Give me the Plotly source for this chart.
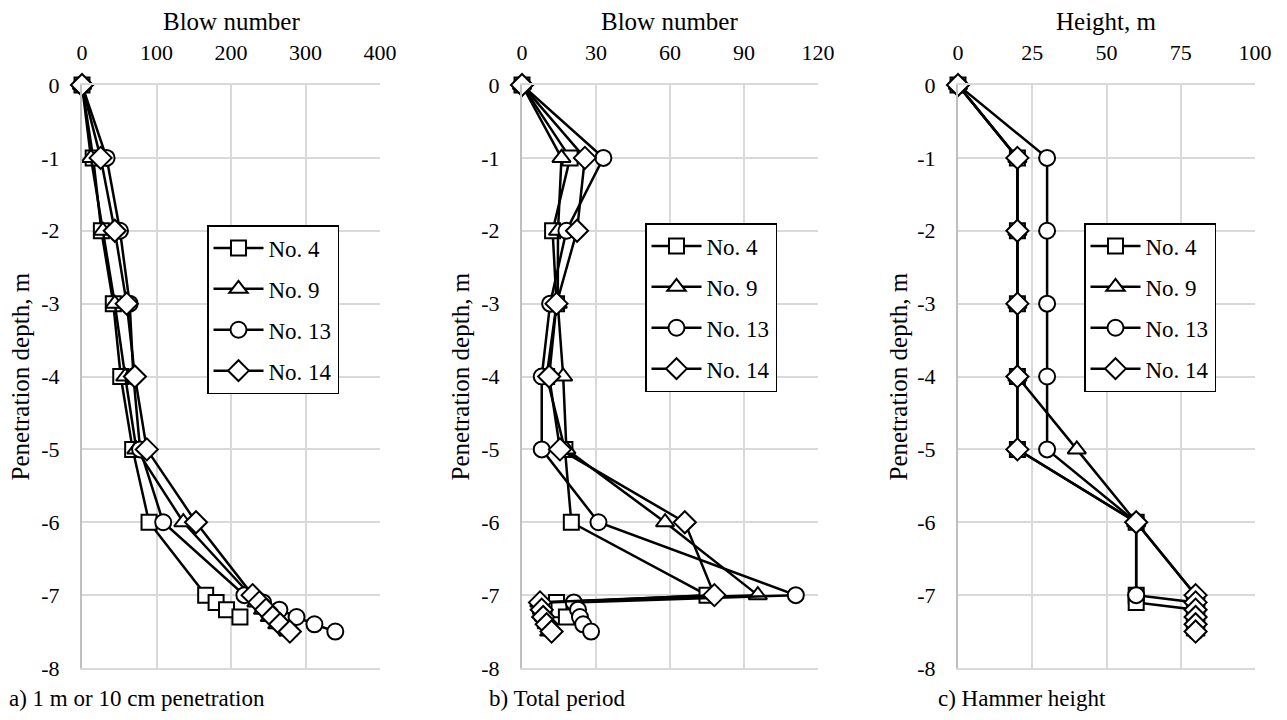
import plotly.graph_objects as go

# ---------------- data ----------------
depth_no4 = [0, -1, -2, -3, -4, -5, -6, -7, -7.1, -7.2, -7.3]
depth_long = [0, -1, -2, -3, -4, -5, -6, -7, -7.1, -7.2, -7.3, -7.4, -7.5]

series_names = ["No. 4", "No. 9", "No. 13", "No. 14"]

# a) blow number per 1 m or 10 cm penetration
a_no4 = [0, 15, 26, 42, 52, 68, 90, 166, 180, 194, 212]
a_no9 = [0, 12, 28, 44, 58, 73, 136, 226, 234, 243, 252, 262, 277]
a_no13 = [0, 33, 51, 64, 69, 78, 109, 218, 243, 265, 288, 312, 340]
a_no14 = [0, 25, 44, 60, 71, 87, 153, 229, 238, 247, 256, 266, 279]

# b) blow number, total period
b_no4 = [0, 19.5, 12.4, 14, 10, 17.4, 20, 75, 14, 15, 18]
b_no9 = [0, 16, 14.6, 14.5, 16.7, 18, 58, 95.6, 7, 8, 9, 10, 11]
b_no13 = [0, 33, 18, 11.4, 8, 8, 31, 111, 21, 22.7, 23.5, 24.8, 28]
b_no14 = [0, 25.5, 22.3, 14, 11, 15.4, 66, 78, 7.3, 8, 8.6, 10, 12]

# c) hammer height, m
c_no4 = [0, 20, 20, 20, 20, 20, 60, 60, 60, 80, 80]
c_no9 = [0, 20, 20, 20, 20, 40, 60, 80, 80, 80, 80, 80, 80]
c_no13 = [0, 30, 30, 30, 30, 30, 60, 60, 80, 80, 80, 80, 80]
c_no14 = [0, 20, 20, 20, 20, 20, 60, 80, 80, 80, 80, 80, 80]

y_ticks = [0, -1, -2, -3, -4, -5, -6, -7, -8]
y_ticktext = ["0", "-1", "-2", "-3", "-4", "-5", "-6", "-7", "-8"]

panels = [
    {"x": [a_no4, a_no9, a_no13, a_no14], "range": [0, 400], "dtick": 100,
     "xtitle": "Blow number", "caption": "a) 1 m or 10 cm penetration"},
    {"x": [b_no4, b_no9, b_no13, b_no14], "range": [0, 120], "dtick": 30,
     "xtitle": "Blow number", "caption": "b) Total period"},
    {"x": [c_no4, c_no9, c_no13, c_no14], "range": [0, 100], "dtick": 25,
     "xtitle": "Height, m", "caption": "c) Hammer height"},
]
depths = [depth_no4, depth_long, depth_long, depth_long]
symbols = ["square", "triangle-up", "circle", "diamond"]
msizes = [15, 16, 16, 17]

# ---------------- layout geometry ----------------
OFF = 8  # page body margin
W, H = 1287 - OFF, 720 - OFF
px_x = [(82, 380), (522, 818), (958, 1255)]
plot_top, plot_bot = 85, 668
legend_pos = [(207, 225), (645, 223), (1084, 223)]
ytitle_x = [20, 460, 898]
caption_pos = [(8, "left"), (557, "center"), (1022, "center")]


def fx(v):
    return (v - OFF) / W


def fy(v):
    return 1 - (v - OFF) / H


FONT = "'Times New Roman', Tinos, 'Liberation Serif', 'DejaVu Serif', serif"
GRID = "#d9d9d9"

fig = go.Figure()
annotations = []

for p, panel in enumerate(panels):
    ax = "" if p == 0 else str(p + 1)
    leg = "legend" if p == 0 else "legend" + str(p + 1)
    for s in range(4):
        fig.add_trace(go.Scatter(
            x=panel["x"][s], y=depths[s],
            mode="lines+markers",
            name=series_names[s],
            legend=leg,
            legendgroup="p%d_s%d" % (p, s),
            xaxis="x" + ax, yaxis="y" + ax,
            line=dict(color="black", width=2.5),
            marker=dict(symbol=symbols[s], size=msizes[s],
                        color="white", line=dict(color="black", width=2)),
            cliponaxis=False,
        ))
    x0, x1 = px_x[p]
    fig.update_layout(**{
        "xaxis" + ax: dict(
            domain=[fx(x0), fx(x1)], anchor="y" + ax, side="top",
            range=panel["range"], dtick=panel["dtick"], tick0=0,
            showgrid=True, gridcolor=GRID, gridwidth=1.5,
            zeroline=False, showline=True, mirror=True, linecolor=GRID, linewidth=1.5,
            ticks="", ticklabelstandoff=14,
            tickfont=dict(family=FONT, size=22, color="black"),
            automargin=False, fixedrange=True,
        ),
        "yaxis" + ax: dict(
            domain=[fy(plot_bot), fy(plot_top)], anchor="x" + ax,
            range=[-8, 0], tickvals=y_ticks, ticktext=y_ticktext,
            showgrid=True, gridcolor=GRID, gridwidth=1.5,
            zeroline=False, showline=True, linecolor="#bfbfbf", linewidth=2,
            ticks="", ticklabelstandoff=16,
            tickfont=dict(family=FONT, size=22, color="black"),
            automargin=False, fixedrange=True,
        ),
        leg: dict(
            x=fx(legend_pos[p][0]), y=fy(legend_pos[p][1]),
            xanchor="left", yanchor="top", xref="paper", yref="paper",
            bgcolor="white", bordercolor="black", borderwidth=1.5,
            font=dict(family=FONT, size=23, color="black"),
            itemwidth=50, traceorder="grouped", tracegroupgap=8,
        ),
    })
    annotations.append(dict(
        text=panel["xtitle"], x=fx((x0 + x1) / 2), y=fy(22),
        xref="paper", yref="paper", showarrow=False,
        xanchor="center", yanchor="middle",
        font=dict(family=FONT, size=25, color="black")))
    annotations.append(dict(
        text="Penetration depth, m", x=fx(ytitle_x[p]),
        y=fy((plot_top + plot_bot) / 2),
        xref="paper", yref="paper", showarrow=False, textangle=-90,
        xanchor="center", yanchor="middle",
        font=dict(family=FONT, size=25, color="black")))
    cx, anc = caption_pos[p]
    annotations.append(dict(
        text=panel["caption"], x=fx(cx), y=fy(698),
        xref="paper", yref="paper", showarrow=False,
        xanchor=anc, yanchor="middle", borderpad=0,
        font=dict(family=FONT, size=23, color="black")))

fig.update_layout(
    width=W, height=H,
    margin=dict(l=0, r=0, t=0, b=0, autoexpand=False),
    paper_bgcolor="white", plot_bgcolor="white",
    annotations=annotations,
    font=dict(family=FONT, color="black"),
    showlegend=True,
)

fig.write_html("out.html")
